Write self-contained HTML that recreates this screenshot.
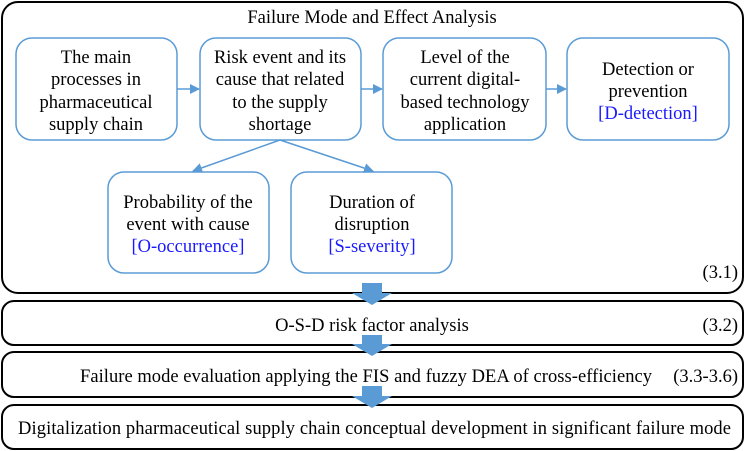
<!DOCTYPE html>
<html><head><meta charset="utf-8"><style>body{margin:0;background:#fff}svg{display:block}</style></head>
<body>
<svg width="747" height="451" viewBox="0 0 747 451" xmlns="http://www.w3.org/2000/svg" font-family="Liberation Serif, serif" font-size="18.5" fill="#000">
<defs>
<marker id="a" markerWidth="10" markerHeight="10" refX="9" refY="5" orient="auto" markerUnits="userSpaceOnUse"><path d="M0,0 L10,5 L0,10 z" fill="#5b9bd5"/></marker>
</defs>
<g fill="none" stroke="#000" stroke-width="2">
<rect x="2" y="2" width="741" height="291" rx="16"/>
<rect x="2" y="301" width="741" height="44" rx="12"/>
<rect x="2" y="352" width="741" height="45" rx="12"/>
<rect x="2" y="405" width="741" height="44" rx="12"/>
</g>
<g fill="none" stroke="#5b9bd5" stroke-width="1.5">
<rect x="16" y="38" width="161" height="102" rx="16"/>
<rect x="200" y="38" width="161" height="102" rx="16"/>
<rect x="383" y="38" width="163" height="102" rx="16"/>
<rect x="567" y="38" width="162" height="102" rx="16"/>
<rect x="108" y="172" width="161" height="101" rx="16"/>
<rect x="291" y="172" width="161" height="101" rx="16"/>
<line x1="177" y1="89" x2="199" y2="89" marker-end="url(#a)"/>
<line x1="361" y1="89" x2="382" y2="89" marker-end="url(#a)"/>
<line x1="546" y1="89" x2="566" y2="89" marker-end="url(#a)"/>
<line x1="280" y1="140" x2="193" y2="171" marker-end="url(#a)"/>
<line x1="280" y1="140" x2="373" y2="171" marker-end="url(#a)"/>
</g>
<g fill="#5b9bd5">
<path d="M362,283 h20 v10 h10 l-20,12 l-20,-12 h10 z"/>
<path d="M362,335 h20 v9 h10 l-20,12 l-20,-12 h10 z"/>
<path d="M362,386 h20 v10 h10 l-20,12 l-20,-12 h10 z"/>
</g>
<g text-anchor="middle">
<text x="372" y="23">Failure Mode and Effect Analysis</text>
<text x="96" y="63">The main</text>
<text x="96" y="85">processes in</text>
<text x="96" y="108">pharmaceutical</text>
<text x="96" y="130">supply chain</text>
<text x="280" y="63">Risk event and its</text>
<text x="280" y="85">cause that related</text>
<text x="280" y="108">to the supply</text>
<text x="280" y="130">shortage</text>
<text x="465" y="63">Level of the</text>
<text x="465" y="85">current digital-</text>
<text x="465" y="108">based technology</text>
<text x="465" y="130">application</text>
<text x="648" y="75">Detection or</text>
<text x="648" y="97">prevention</text>
<text x="648" y="119" fill="#1a1aff">[D-detection]</text>
<text x="188" y="208">Probability of the</text>
<text x="188" y="230">event with cause</text>
<text x="188" y="252" fill="#1a1aff">[O-occurrence]</text>
<text x="372" y="208">Duration of</text>
<text x="372" y="230">disruption</text>
<text x="372" y="252" fill="#1a1aff">[S-severity]</text>
<text x="372" y="331">O-S-D risk factor analysis</text>
</g>
<text x="80" y="382" textLength="572" lengthAdjust="spacing">Failure mode evaluation applying the FIS and fuzzy DEA of cross-efficiency</text>
<text x="18" y="434" textLength="713" lengthAdjust="spacing">Digitalization pharmaceutical supply chain conceptual development in significant failure mode</text>
<g text-anchor="end">
<text x="738" y="278">(3.1)</text>
<text x="738" y="331">(3.2)</text>
<text x="738" y="382">(3.3-3.6)</text>
</g>
</svg>
</body></html>
